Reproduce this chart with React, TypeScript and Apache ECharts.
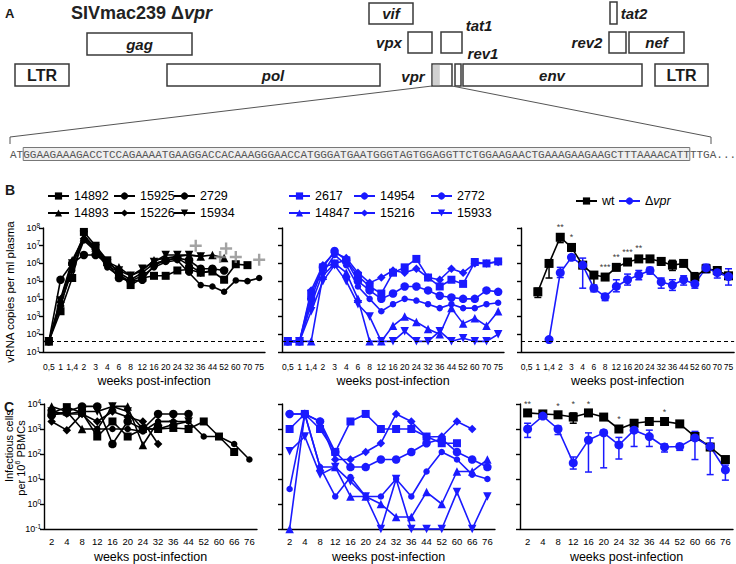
import React, { useEffect, useRef } from 'react';
import * as echarts from 'echarts';

const FONT = '"Liberation Sans", Arial, Helvetica, sans-serif';
const BLUE = '#1a1aff';
const BLACK = '#000000';
const GREY = '#8c8c8c';

// ---------- categories ----------
const weeksB = ['0,5', '1', '1,4', '2', '3', '4', '6', '8', '12', '16', '20', '24', '32', '36', '44', '52', '60', '70', '75'];
const weeksC = ['2', '4', '8', '12', '16', '20', '24', '32', '36', '44', '52', '60', '66', '76'];

// ---------- B: vRNA, wt animals ----------
const bw14892 = [40, 2e3, 1.5e5, 6e7, 1e7, 1.5e6, 3e5, 6e4, 1.5e5, 2e5, 2e5, 4e5, 4.5e5, 3e5, 3.5e5, 1.2e5, 9e5, 8e5, null];
const bw15925 = [40, 1.2e5, 1e6, 3e6, 3e6, 1e6, 1.5e5, 1e5, 1.2e5, 8e5, 1.5e6, 2e6, 1.5e6, 5e5, 5e5, 4e5, null, null, null];
const bw2729 = [40, 5e3, 4e5, 2e7, 5e6, 6e5, 2e5, 1e5, 2e5, 6e5, 1.2e6, 1.5e6, 3e5, 6e4, 5e4, 2.5e4, 1.1e5, 1e5, 1.5e5];
const bw14893 = [40, 1e4, 1.5e6, 3e7, 8e6, 1.2e6, 6e5, 2e5, 4e5, 1.5e6, 2e6, 2.5e6, 3e6, 2.5e6, 3e6, 2e6, null, null, null];
const bw15226 = [40, 4e3, 8e5, 2.5e7, 6e6, 8e5, 3e5, 1.2e5, 3e5, 1e6, 1.5e6, 2e6, 8e5, 3e5, 4e5, null, null, null, null];
const bw15934 = [40, 8e3, 1e6, 4e7, 7e6, 1e6, 4e5, 2e5, 5e5, 1.2e6, 3e6, 3e6, 3e6, 2.5e6, null, null, null, null, null];
// euthanasia crosses: [category index, value, x offset]
const bwCross = [[13, 1e7, -5], [15, 7e6, 2], [15, 2.3e6, -4], [16, 2.3e6, 0], [18, 1.6e6, 0]];

// ---------- B: vRNA, delta-vpr animals ----------
const bd2617 = [40, 40, 2e4, 6e5, 1e6, 1.5e6, 2e5, 5e4, 2e4, 3e5, 6e5, 1.8e6, 1.6e5, 5e4, 1.2e5, 7e4, 1.2e6, 1e6, 1.3e6];
const bd14954 = [40, 40, 1e4, 6e5, 5e6, 1.5e6, 1e5, 3e4, 1e4, 2e4, 5e4, 5e4, 3e4, 1.5e4, 1.2e4, 1e4, 1e4, 3e4, 2.5e4];
const bd2772 = [40, 40, 5e3, 3e5, 3e6, 8e5, 5e4, 1e4, 2e3, 5e3, 1e4, 8e3, 5e3, 3e3, 5e3, 3e3, 3e3, 5e3, 6e3];
const bd14847 = [40, 40, 40, 2e5, 1e6, 3e5, 1e4, 40, 40, 300, 1e3, 500, 200, 100, 3e3, 400, 800, 300, 2e3];
const bd15216 = [40, 40, 3e4, 8e5, 4e6, 2e6, 3e5, 8e4, 1.6e5, 4e5, 3e5, 5e5, 1.6e5, 1.2e5, 5e5, 3e5, 1e6, 1e6, 1.2e6];
const bd15933 = [40, 40, 2e3, 1e5, 8e5, 1e5, 5e3, 1e3, 40, 40, 150, 40, 40, 150, 40, 60, 40, 40, 100];

// ---------- B: group means ----------
const bMeanWt = [null, 2.5e4, 1e6, 3e7, 8e6, 8e5, 2.2e5, 1.7e5, 6e5, 1.2e6, 1.8e6, 1.8e6, 1.3e6, 8e5, 1e6, 1.7e5, 5e5, 4e5, 2e5];
const bErrWt = [[1, 1.2e4, 4e4], [2, 1.5e5, 1.5e6], [3, 1.5e7, 4e7], [4, 5e6, 1e7], [5, 6e5, 1e6], [6, 3e4, 3e5], [7, 1.2e5, 2.2e5], [8, 4e5, 8e5], [9, 9e5, 1.5e6], [10, 1.3e6, 2.5e6], [11, 1.4e6, 2.3e6], [12, 8e5, 2e6], [13, 4e5, 1.5e6], [14, 7e5, 1.3e6], [15, 1.3e5, 3e5], [16, 4e5, 7e5], [17, 3e5, 6e5], [18, 1.5e5, 3e5]];
const bMeanDvpr = [null, null, 50, 3e5, 2.2e6, 8e5, 4e4, 1.3e4, 5e4, 1.2e5, 2.2e5, 4e5, 9e4, 6e4, 1.2e5, 7e4, 5.6e5, 3e5, 1.8e5];
const bErrDvpr = [[3, 1.6e5, 6e5], [4, 1.5e6, 3e6], [5, 4e4, 2e6], [6, 2.5e4, 6e4], [7, 8e3, 2e4], [8, 2.5e4, 1.2e5], [9, 6e4, 2.5e5], [10, 1.2e5, 4e5], [11, 2.5e5, 6e5], [12, 4e4, 1.5e5], [13, 3e4, 1.2e5], [14, 6e4, 2e5], [15, 4e4, 1e5], [16, 3e5, 9e5], [17, 1.5e5, 6e5], [18, 6e4, 5e5]];
const bStars = [[3, 4e7, '**'], [4, 1e7, '*'], [7, 2.2e5, '***'], [8, 8e5, '**'], [9, 1.5e6, '***'], [10, 2.5e6, '**']];

// ---------- C: infectious cells, wt animals ----------
const cw14892 = [4.4e3, 7.5e3, 4.5e3, 5e2, 2e3, 5e2, 1e3, 1e3, 1.1e3, 1e3, 2e3, 5e2, 1.2e2, null];
const cw15925 = [3.5e3, 5e3, 8e3, 8e3, 2.5e2, 2e3, 1e3, 4e3, 4e3, 4e3, null, null, null, null];
const cw2729 = [4e3, 4e3, 4e3, 1e3, 1e3, 1e3, 8e2, 2e3, 2e3, 2e3, 5e2, 5e2, 2.5e2, 6e1];
const cw14893 = [8e3, 5e3, 1e3, 1e3, 8e3, 8e3, 2.3e2, 2e3, 2e3, null, null, null, null, null];
const cw15226 = [2e3, 9e2, 4e3, 2e3, 5e3, 3e3, 2e3, 2.5e2, null, null, null, null, null, null];
const cw15934 = [5e3, 4e3, 5e3, 5e3, 8e3, 5e3, 1e3, 1e3, 1.5e3, 2e3, null, null, null, null];

// ---------- C: infectious cells, delta-vpr animals ----------
const cd2617 = [1e3, 4e3, 1e3, 1.2e2, 2e3, 4e3, 1e3, 1e3, 1e3, 5e2, 2.7e2, 2.7e2, null, null];
const cd14954 = [4e3, 4e3, 2e3, 1.2e2, 3e1, 3e1, 6e1, 6e1, 1.2e2, 2.7e2, 4e2, 1.2e2, 6e1, 3e1];
const cd2772 = [4, 4e3, 3e1, 2, 1.2e1, 2, 2, 1e1, 2, 2e1, 1.2e2, 6e1, 1.5e1, 1e1];
const cd14847 = [0.1, 4e3, 3e1, 3e1, 2, 2, 1, 0.3, 0.3, 3, 1, 2e1, 2e1, 6e1];
const cd15216 = [4e3, 4e3, 2e3, 6e1, 6e1, 1.2e2, 2.7e2, 4e3, 2e3, 4.8e2, 5e2, 2e3, 1e3, null];
const cd15933 = [1.3e2, 5e2, 1.5e1, 3e1, 8, 2, 0.1, 1e1, 0.1, 0.1, 0.1, 3, 0.1, 2];

// ---------- C: group means ----------
const cMeanWt = [4.4e3, 4e3, 3.7e3, 3e3, 4.4e3, 3e3, 1e3, 1.7e3, 2e3, 2e3, 1.6e3, 5e2, 1.9e2, 6e1];
const cErrWt = [[3, 1.7e3, 4.4e3], [5, 2.5e3, 3.6e3], [11, 4e2, 6.5e2], [12, 1.5e2, 2.4e2]];
const cMeanDvpr = [1e3, 3.3e3, 1e3, 4.4e1, 3.6e2, 7e2, 2.3e2, 9e2, 5e2, 1.9e2, 2e2, 4.4e2, 2e2, 2.3e1];
const cErrDvpr = [[0, 4.6e2, 1.7e3], [1, 3e3, 3.6e3], [2, 6e2, 1.3e3], [3, 2.5e1, 7.6e1], [4, 1.9e1, 7e2], [5, 2.8e1, 9e2], [6, 6.3e1, 4.6e2], [7, 2e2, 1.7e3], [8, 2e2, 9e2], [9, 1.2e2, 2.5e2], [10, 1.4e2, 2.5e2], [11, 6e1, 8e2], [12, 1.5e1, 4.4e2], [13, 9, 3.6e1]];
const cStars = [[0, 4.6e3, '**'], [2, 3.9e3, '*'], [3, 4.4e3, '*'], [4, 4.6e3, '*'], [6, 1.1e3, '*'], [9, 2.2e3, '*']];

const DNA_LEFT = 'AT';
const DNA_BOX = 'GGAAGAAAGACCTCCAGAAAATGAAGGACCACAAAGGGAACCATGGGATGAATGGGTAGTGGAGGTTCTGGAAGAACTGAAAGAAGAAGCTTTAAAACATT';
const DNA_RIGHT = 'TTGA...';

// ---------- style helpers ----------
const SQ = { symbol: 'rect', size: 8 };
const CI = { symbol: 'circle', size: 8.5 };
const CS = { symbol: 'circle', size: 6.5 };
const TR = { symbol: 'triangle', size: 8.5 };
const DI = { symbol: 'diamond', size: 8.5 };
const TD = { symbol: 'triangle', size: 8.5, rotate: 180 };

function lineS(name: string, data: any[], gi: number, color: string, sym: any, extra: any = {}) {
  return {
    type: 'line', name, data, xAxisIndex: gi, yAxisIndex: gi,
    symbol: sym.symbol, symbolSize: sym.size, symbolRotate: sym.rotate || 0,
    showAllSymbol: true, showSymbol: true, connectNulls: false, clip: false,
    itemStyle: { color, opacity: 1 }, lineStyle: { color, width: 1.6 },
    emphasis: { disabled: true }, z: 3, ...extra,
  };
}

function errS(data: any[], gi: number, color: string) {
  return {
    type: 'custom', xAxisIndex: gi, yAxisIndex: gi, data, clip: false, silent: true, z: 2,
    encode: { x: 0, y: [1, 2] },
    renderItem: (_p: any, api: any) => {
      const lo = api.coord([api.value(0), api.value(1)]);
      const hi = api.coord([api.value(0), api.value(2)]);
      const st = { stroke: color, lineWidth: 1.5 };
      const c = 3.5;
      return {
        type: 'group', children: [
          { type: 'line', shape: { x1: lo[0], y1: lo[1], x2: hi[0], y2: hi[1] }, style: st },
          { type: 'line', shape: { x1: lo[0] - c, y1: lo[1], x2: lo[0] + c, y2: lo[1] }, style: st },
          { type: 'line', shape: { x1: hi[0] - c, y1: hi[1], x2: hi[0] + c, y2: hi[1] }, style: st },
        ],
      };
    },
  };
}

function starS(data: any[], gi: number) {
  return {
    type: 'scatter', xAxisIndex: gi, yAxisIndex: gi, data, clip: false, silent: true, z: 6,
    symbolSize: 6, itemStyle: { color: 'rgba(0,0,0,0)' },
    label: { show: true, position: 'top', distance: 1, formatter: (p: any) => p.data[2], fontSize: 9, color: '#000', fontFamily: FONT },
  };
}

const supFmt = (v: number) => `{b|10}{s|${Math.round(Math.log10(v))}}`;
const supRich = {
  b: { fontSize: 9, color: '#000', fontFamily: FONT, lineHeight: 13 },
  s: { fontSize: 6.5, color: '#000', fontFamily: FONT, verticalAlign: 'top', lineHeight: 13 },
};

const B_TOP = 228, B_H = 124, B_W = 222;
const C_TOP = 404, C_H = 125, C_W = 213;
const B_LEFTS = [43, 282, 521];
const C_LEFTS = [44, 282, 520];

function xAxisB(gi: number) {
  return {
    type: 'category', gridIndex: gi, data: weeksB, boundaryGap: true,
    axisLine: { lineStyle: { color: '#000', width: 1.4 } }, axisTick: { show: false },
    axisLabel: { interval: 0, fontSize: 8.5, color: '#000', margin: 10, fontFamily: FONT, hideOverlap: false },
    name: 'weeks post-infection', nameLocation: 'middle', nameGap: 22,
    nameTextStyle: { fontSize: 12.5, color: '#000', fontFamily: FONT },
  };
}
function xAxisC(gi: number) {
  return {
    type: 'category', gridIndex: gi, data: weeksC, boundaryGap: true,
    axisLine: { lineStyle: { color: '#000', width: 1.4 } }, axisTick: { show: false },
    axisLabel: { interval: 0, fontSize: 9.5, color: '#000', margin: 7, fontFamily: FONT, hideOverlap: false },
    name: 'weeks post-infection', nameLocation: 'middle', nameGap: 21,
    nameTextStyle: { fontSize: 12.5, color: '#000', fontFamily: FONT },
  };
}
function yAxisLog(gi: number, min: number, max: number, showLabel: boolean) {
  return {
    type: 'log', logBase: 10, gridIndex: gi, min, max,
    axisLine: { show: true, lineStyle: { color: '#000', width: 1.4 } },
    axisTick: { show: true, length: 4, lineStyle: { color: '#000', width: 1.4 } },
    splitLine: { show: false }, minorTick: { show: false },
    axisLabel: { show: showLabel, formatter: supFmt, rich: supRich, margin: 3 },
  };
}

const dashLine = {
  silent: true, symbol: 'none', label: { show: false },
  lineStyle: { color: '#000', type: [4, 3], width: 1.2 },
  data: [{ yAxis: 40 }],
};

// ---------- panel A graphics ----------
const TXT = '#1a1a1a';
function gBox(x: number, y: number, w: number, h: number, fill = '#fff') {
  return { type: 'rect', shape: { x, y, width: w, height: h }, style: { fill, stroke: '#3a3a3a', lineWidth: 1.5 } };
}
function gTxt(x: number, y: number, text: string, size = 15, italic = true, bold = true, align = 'center') {
  return {
    type: 'text', x, y,
    style: {
      text, fill: TXT, fontSize: size, fontFamily: FONT, fontWeight: bold ? 'bold' : 'normal',
      fontStyle: italic ? 'italic' : 'normal', align, verticalAlign: 'middle',
    },
  };
}

const CW = 6.6; // mono char width at 11px
const dnaX = 10;

const graphics: any[] = [
  gTxt(5, 13, 'A', 13, false, true, 'left'),
  {
    type: 'text', x: 71, y: 13,
    style: {
      text: '{a|SIVmac239 Δ}{b|vpr}', verticalAlign: 'middle', align: 'left',
      rich: {
        a: { fontSize: 18, fontWeight: 'bold', fontFamily: FONT, fill: '#222' },
        b: { fontSize: 18, fontWeight: 'bold', fontStyle: 'italic', fontFamily: FONT, fill: '#222' },
      },
    },
  },
  gBox(87, 33, 105, 22), gTxt(139.5, 44, 'gag'),
  gBox(15, 64, 54, 22), gTxt(42, 75, 'LTR', 16, false),
  gBox(167, 64, 213, 22), gTxt(273, 75, 'pol'),
  gBox(369, 3, 44, 21), gTxt(391, 13.5, 'vif'),
  gBox(408, 32, 24, 21), gTxt(389, 42, 'vpx'),
  gBox(441, 32, 21, 21), gTxt(479, 25, 'tat1'),
  gTxt(483, 53, 'rev1'),
  gBox(432, 64, 20, 22),
  { type: 'rect', shape: { x: 432.8, y: 64.8, width: 7, height: 20.4 }, style: { fill: '#d0d0d0' } },
  gTxt(413, 76, 'vpr'),
  gBox(455, 64, 6, 22),
  gBox(463, 64, 179, 22), gTxt(552, 75, 'env'),
  gBox(655, 64, 53, 22), gTxt(681.5, 75, 'LTR', 16, false),
  gBox(610, 2, 7, 22), gTxt(634, 13, 'tat2'),
  gBox(609, 32, 17, 21), gTxt(587, 42, 'rev2'),
  gBox(629, 32, 55, 21), gTxt(656.5, 42, 'nef'),
  { type: 'line', shape: { x1: 432, y1: 86, x2: 10, y2: 137 }, style: { stroke: '#555', lineWidth: 1 } },
  { type: 'line', shape: { x1: 452, y1: 86, x2: 711, y2: 137 }, style: { stroke: '#555', lineWidth: 1 } },
  { type: 'line', shape: { x1: 10, y1: 137, x2: 10, y2: 144 }, style: { stroke: '#555', lineWidth: 1 } },
  { type: 'line', shape: { x1: 711, y1: 137, x2: 711, y2: 144 }, style: { stroke: '#555', lineWidth: 1 } },
  {
    type: 'rect', shape: { x: dnaX + DNA_LEFT.length * CW, y: 147.5, width: DNA_BOX.length * CW, height: 13 },
    style: { fill: '#efefef', stroke: '#777', lineWidth: 1 },
  },
  {
    type: 'text', x: dnaX, y: 154.5,
    style: {
      text: DNA_LEFT + DNA_BOX + DNA_RIGHT, fill: '#555', fontSize: 11, fontFamily: '"Liberation Mono", "DejaVu Sans Mono", monospace',
      align: 'left', verticalAlign: 'middle',
    },
  },
  // panel letters and y-axis titles
  gTxt(5, 190, 'B', 14, false, true, 'left'),
  gTxt(4, 407, 'C', 14, false, true, 'left'),
  {
    type: 'text', x: 10, y: 292, rotation: Math.PI / 2,
    style: { text: 'vRNA copies per ml plasma', fontSize: 11.5, fontFamily: FONT, fill: '#000', align: 'center', verticalAlign: 'middle' },
  },
  {
    type: 'text', x: 9, y: 446, rotation: Math.PI / 2,
    style: { text: 'Infectious cells', fontSize: 11, fontFamily: FONT, fill: '#000', align: 'center', verticalAlign: 'middle' },
  },
  {
    type: 'text', x: 20.5, y: 458, rotation: Math.PI / 2,
    style: {
      text: '{n|per 10}{s|6}{n| PBMCs}', align: 'center', verticalAlign: 'middle',
      rich: {
        n: { fontSize: 11, fontFamily: FONT, fill: '#000', lineHeight: 13 },
        s: { fontSize: 7, fontFamily: FONT, fill: '#000', verticalAlign: 'top', lineHeight: 13 },
      },
    },
  },
];

// ---------- series ----------
const series: any[] = [
  lineS('14892', bw14892, 0, BLACK, SQ, { markLine: dashLine }),
  lineS('15925', bw15925, 0, BLACK, CI),
  lineS('2729', bw2729, 0, BLACK, CS),
  lineS('14893', bw14893, 0, BLACK, TR),
  lineS('15226', bw15226, 0, BLACK, DI),
  lineS('15934', bw15934, 0, BLACK, TD),
  {
    type: 'scatter', xAxisIndex: 0, yAxisIndex: 0, silent: true, clip: false, z: 5,
    symbol: 'path://M4,0 L6,0 L6,4 L10,4 L10,6 L6,6 L6,10 L4,10 L4,6 L0,6 L0,4 L4,4 Z',
    symbolSize: 12, itemStyle: { color: GREY },
    data: bwCross.map((c) => ({ value: [c[0], c[1]], symbolOffset: [c[2], 0] })),
  },
  lineS('2617', bd2617, 1, BLUE, SQ, { markLine: dashLine }),
  lineS('14954', bd14954, 1, BLUE, CI),
  lineS('2772', bd2772, 1, BLUE, CS),
  lineS('14847', bd14847, 1, BLUE, TR),
  lineS('15216', bd15216, 1, BLUE, DI),
  lineS('15933', bd15933, 1, BLUE, TD),
  errS(bErrWt, 2, BLACK),
  errS(bErrDvpr, 2, BLUE),
  lineS('wt', bMeanWt, 2, BLACK, { symbol: 'rect', size: 9 }, { markLine: dashLine }),
  lineS('Δvpr', bMeanDvpr, 2, BLUE, { symbol: 'circle', size: 9 }),
  starS(bStars, 2),
  lineS('14892', cw14892, 3, BLACK, SQ),
  lineS('15925', cw15925, 3, BLACK, CI),
  lineS('2729', cw2729, 3, BLACK, CS),
  lineS('14893', cw14893, 3, BLACK, TR),
  lineS('15226', cw15226, 3, BLACK, DI),
  lineS('15934', cw15934, 3, BLACK, TD),
  lineS('2617', cd2617, 4, BLUE, SQ),
  lineS('14954', cd14954, 4, BLUE, CI),
  lineS('2772', cd2772, 4, BLUE, CS),
  lineS('14847', cd14847, 4, BLUE, TR),
  lineS('15216', cd15216, 4, BLUE, DI),
  lineS('15933', cd15933, 4, BLUE, TD),
  errS(cErrWt, 5, BLACK),
  errS(cErrDvpr, 5, BLUE),
  lineS('wt', cMeanWt, 5, BLACK, { symbol: 'rect', size: 9 }),
  lineS('Δvpr', cMeanDvpr, 5, BLUE, { symbol: 'circle', size: 9 }),
  starS(cStars, 5),
];

const legendItems: [string, number, number][] = [
  ['14892', 47, 189.5], ['15925', 113, 189.5], ['2729', 173, 189.5],
  ['14893', 47, 206.5], ['15226', 113, 206.5], ['15934', 173, 206.5],
  ['2617', 288, 189.5], ['14954', 353, 189.5], ['2772', 430, 189.5],
  ['14847', 288, 206.5], ['15216', 353, 206.5], ['15933', 430, 206.5],
  ['wt', 575, 194.5], ['Δvpr', 618, 194.5],
];

const legends = legendItems.map(([name, left, top]) => ({
  data: [name], left, top, padding: 0, itemWidth: 21, itemHeight: 9, itemGap: 0,
  selectedMode: false,
  formatter: (n: string) => (n === 'Δvpr' ? '{a|Δ}{i|vpr}' : n),
  textStyle: {
    fontSize: 12.5, color: '#000', fontFamily: FONT,
    rich: {
      a: { fontSize: 12.5, color: '#000', fontFamily: FONT },
      i: { fontSize: 12.5, color: '#000', fontFamily: FONT, fontStyle: 'italic' },
    },
  },
}));

const option: any = {
  animation: false,
  backgroundColor: '#ffffff',
  textStyle: { fontFamily: FONT },
  grid: [
    ...B_LEFTS.map((l) => ({ left: l, top: B_TOP, width: B_W, height: B_H })),
    ...C_LEFTS.map((l) => ({ left: l, top: C_TOP, width: C_W, height: C_H })),
  ],
  xAxis: [xAxisB(0), xAxisB(1), xAxisB(2), xAxisC(3), xAxisC(4), xAxisC(5)],
  yAxis: [
    yAxisLog(0, 10, 1e8, true), yAxisLog(1, 10, 1e8, false), yAxisLog(2, 10, 1e8, false),
    yAxisLog(3, 0.1, 1e4, true), yAxisLog(4, 0.1, 1e4, false), yAxisLog(5, 0.1, 1e4, false),
  ],
  legend: legends,
  graphic: graphics,
  series,
};

export default function App() {
  const ref = useRef<HTMLDivElement>(null);
  useEffect(() => {
    const chart = echarts.init(ref.current as HTMLDivElement, null, { renderer: 'svg' });
    chart.setOption(option);
    return () => chart.dispose();
  }, []);
  return (
    <div
      ref={ref}
      style={{ position: 'absolute', left: 0, top: 0, width: 736, height: 564, background: '#fff' }}
    />
  );
}
